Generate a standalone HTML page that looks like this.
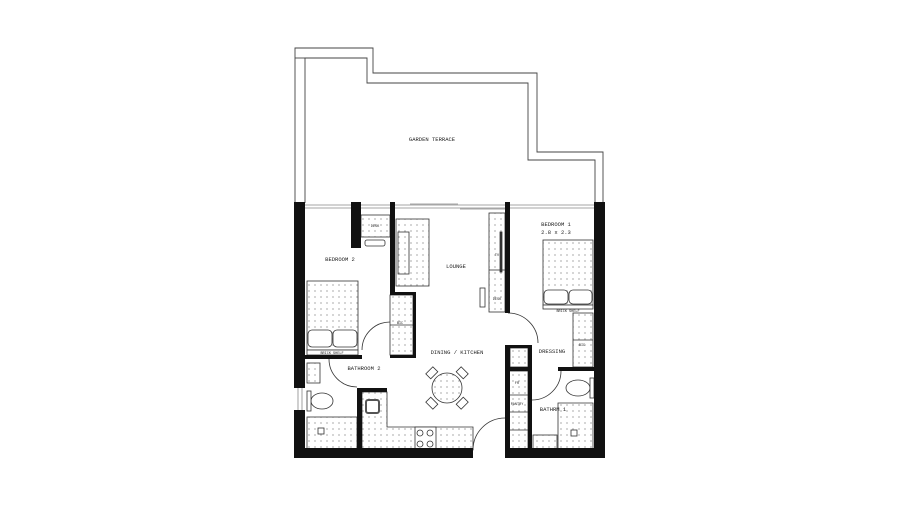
<!DOCTYPE html>
<html><head><meta charset="utf-8"><style>
html,body{margin:0;padding:0;background:#fff;width:900px;height:506px;overflow:hidden}
svg{display:block}
text{font-family:"Liberation Mono",monospace;fill:#222}
</style></head><body>
<svg width="900" height="506" viewBox="0 0 900 506" xmlns="http://www.w3.org/2000/svg">
<defs>
<pattern id="d" width="6" height="6" patternUnits="userSpaceOnUse">
<rect width="6" height="6" fill="#fff"/>
<path d="M3 2v2M2 3h2" stroke="#aaa" stroke-width="0.6"/>
</pattern>
</defs>
<!-- terrace -->
<g fill="none" stroke="#444" stroke-width="0.9">
<polyline points="295,203 295,48 373,48 373,73 537,73 537,152 603,152 603,203"/>
<polyline points="305,203 305,58 367,58 367,83 528,83 528,160 595,160 595,203"/>
<line x1="295" y1="58" x2="305" y2="58"/>
</g>
<text x="432" y="141" font-size="5.5" text-anchor="middle">GARDEN TERRACE</text>
<!-- glazing -->
<g stroke="#888" stroke-width="0.8" fill="none">
<line x1="305" y1="205" x2="351" y2="205"/><line x1="305" y1="208" x2="351" y2="208"/>
<line x1="361" y1="205" x2="390" y2="205"/><line x1="361" y1="208" x2="390" y2="208"/>
<line x1="395" y1="205" x2="505" y2="205"/><line x1="395" y1="208" x2="505" y2="208"/>
<line x1="410" y1="204" x2="458" y2="204"/><line x1="460" y1="209" x2="505" y2="209"/>
<line x1="510" y1="205" x2="594" y2="205"/><line x1="510" y1="208" x2="594" y2="208"/>
<line x1="298" y1="388" x2="298" y2="410"/><line x1="302" y1="388" x2="302" y2="410"/>
</g>
<!-- furniture fills -->
<g stroke="#333" stroke-width="0.8" fill="url(#d)">
<rect x="361" y="215" width="29" height="22"/>
<rect x="396" y="219" width="33" height="67"/>
<rect x="398" y="232" width="11" height="42"/>
<rect x="489" y="213" width="16" height="99"/>
<rect x="390" y="295" width="23" height="60"/>
<rect x="307" y="281" width="51" height="69"/>
<rect x="543" y="240" width="50" height="65"/>
<rect x="573" y="313" width="20" height="54"/>
<rect x="510" y="348" width="18" height="19"/>
<rect x="507" y="371" width="21" height="79"/>
<rect x="307" y="363" width="13" height="20"/>
<rect x="307" y="417" width="50" height="33"/>
<polygon points="362,392 387,392 387,427 473,427 473,450 362,450"/>
<polygon points="558,403 593,403 593,450 558,450 558,418"/>
<rect x="533" y="435" width="24" height="15"/>
<circle cx="447" cy="388" r="15"/>
</g>
<g stroke="#333" stroke-width="0.8" fill="#fff">
<rect x="308" y="330" width="24" height="17" rx="4"/><rect x="333" y="330" width="24" height="17" rx="4"/>
<rect x="544" y="290" width="24" height="14" rx="4"/><rect x="569" y="290" width="23" height="14" rx="4"/>
<rect x="307" y="350" width="51" height="5"/><rect x="543" y="305" width="50" height="4"/>
<rect x="365" y="240" width="20" height="6" rx="2"/>
<rect x="480" y="288" width="5" height="19"/>
<rect x="500" y="232" width="2" height="40" fill="#333"/>
<rect x="415" y="427" width="21" height="23"/>
<circle cx="420" cy="433" r="3"/><circle cx="430" cy="433" r="3"/><circle cx="420" cy="444" r="3"/><circle cx="430" cy="444" r="3"/>
<rect x="366" y="400" width="13" height="13" rx="2" stroke-width="2" stroke="#555"/>
<ellipse cx="578" cy="388" rx="12" ry="8"/><rect x="590" y="378" width="4" height="20"/>
<ellipse cx="322" cy="401" rx="11" ry="8"/><rect x="307" y="391" width="4" height="20"/>
<g transform="translate(447,388)">
<rect x="-5" y="-25" width="10" height="7" transform="rotate(-45)"/>
<rect x="-5" y="-25" width="10" height="7" transform="rotate(45)"/>
<rect x="-5" y="-25" width="10" height="7" transform="rotate(135)"/>
<rect x="-5" y="-25" width="10" height="7" transform="rotate(225)"/>
</g>
<rect x="318" y="428" width="6" height="6"/><rect x="571" y="430" width="6" height="6"/>
</g>
<line x1="390" y1="325" x2="413" y2="325" stroke="#333" stroke-width="0.8"/>
<line x1="573" y1="340" x2="593" y2="340" stroke="#333" stroke-width="0.8"/>
<line x1="489" y1="270" x2="505" y2="270" stroke="#333" stroke-width="0.8"/>
<line x1="507" y1="395" x2="528" y2="395" stroke="#333" stroke-width="0.8"/>
<line x1="507" y1="412" x2="528" y2="412" stroke="#333" stroke-width="0.8"/>
<line x1="507" y1="430" x2="528" y2="430" stroke="#333" stroke-width="0.8"/>
<!-- doors -->
<g fill="none" stroke="#333" stroke-width="0.8">
<path d="M362,350 A28,28 0 0 1 390,322"/>
<path d="M329,359 A28,28 0 0 0 357,387"/>
<path d="M508,313 A30,30 0 0 1 538,343"/>
<path d="M473,450 A32,32 0 0 1 505,418"/>
<path d="M561,371 A29,29 0 0 1 532,400"/>
</g>
<!-- walls -->
<g fill="#111">
<rect x="294" y="202" width="11" height="186"/>
<rect x="294" y="410" width="11" height="48"/>
<rect x="594" y="202" width="11" height="256"/>
<rect x="294" y="448" width="179" height="10"/>
<rect x="505" y="448" width="100" height="10"/>
<rect x="351" y="202" width="10" height="46"/>
<rect x="390" y="202" width="5" height="93"/>
<rect x="390" y="292" width="26" height="3"/>
<rect x="413" y="292" width="3" height="66"/>
<rect x="390" y="355" width="26" height="3"/>
<rect x="305" y="355" width="57" height="4"/>
<rect x="357" y="388" width="5" height="70"/>
<rect x="357" y="388" width="30" height="4"/>
<rect x="505" y="202" width="5" height="111"/>
<rect x="505" y="345" width="5" height="113"/>
<rect x="505" y="345" width="25" height="3"/>
<rect x="528" y="345" width="4" height="103"/>
<rect x="505" y="367" width="27" height="4"/>
<rect x="558" y="367" width="36" height="4"/>
</g>
<!-- labels -->
<g font-size="5.5" text-anchor="middle">
<text x="340" y="261">BEDROOM 2</text>
<text x="456" y="268">LOUNGE</text>
<text x="556" y="226">BEDROOM 1</text>
<text x="556" y="234">2.8 x 2.3</text>
<text x="457" y="354">DINING / KITCHEN</text>
<text x="552" y="353">DRESSING</text>
<text x="364" y="370">BATHROOM 2</text>
<text x="553" y="411">BATHRM 1</text>
</g>
<g font-size="3.5" text-anchor="middle">
<text x="375" y="227">DESK</text>
<text x="497" y="256">TV</text>
<text x="497" y="300">DESK</text>
<text x="400" y="324">BIC</text>
<text x="582" y="346">BIC</text>
<text x="332" y="354">BRICK SHELF</text>
<text x="568" y="312">BRICK SHELF</text>
<text x="517" y="384">FR</text>
<text x="517" y="405">PANTRY</text>
</g>
</svg>
</body></html>
